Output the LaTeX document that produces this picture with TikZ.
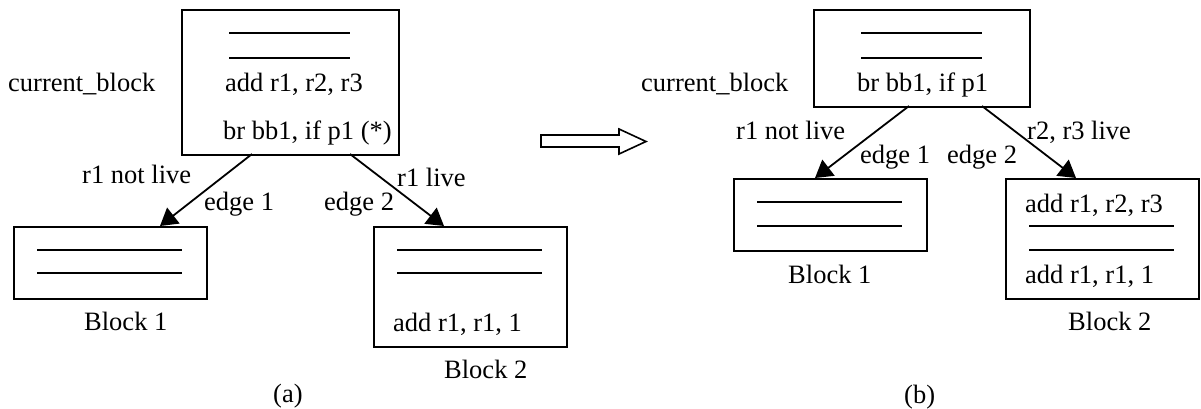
\documentclass[tikz,border=0pt]{standalone}
\usepackage{fontspec}
\setmainfont{Liberation Serif}
\usetikzlibrary{arrows.meta}
\begin{document}
\begin{tikzpicture}[x=1pt,y=-1pt,
  every node/.style={font=\fontsize{26.5}{30}\selectfont},
  lbl/.style={anchor=base west,inner sep=0pt},
  blockbox/.style={draw,line width=1.8pt,anchor=north west,inner sep=0pt},
  bar/.style={line width=1.8pt},
  edgearrow/.style={line width=1.8pt,-{Triangle[length=17pt,width=20pt]}}]
\path[use as bounding box] (0,0) rectangle (1201,408);
% ---------------- (a) ----------------
\node[blockbox,minimum width=217pt,minimum height=145pt] (curA) at (181,9) {};
\draw[bar] (229,33) -- (350,33);
\draw[bar] (229,58) -- (350,58);
\node[lbl] (curAlbl) at (8,91) {current\_block};
\node[lbl] (curAadd) at (225,91) {add r1, r2, r3};
\node[lbl] (curAbr) at (223,139) {br bb1, if p1 (*)};

\node[blockbox,minimum width=193pt,minimum height=72pt] (b1A) at (13,226) {};
\draw[bar] (37,250) -- (182,250);
\draw[bar] (37,273) -- (182,273);
\node[lbl] (b1Albl) at (84,330) {Block 1};

\node[blockbox,minimum width=193pt,minimum height=120pt] (b2A) at (373,226) {};
\draw[bar] (397,250) -- (542,250);
\draw[bar] (397,273) -- (542,273);
\node[lbl] (b2Aadd) at (393,331) {add r1, r1, 1};
\node[lbl] (b2Albl) at (444,378) {Block 2};

\coordinate (eA1s) at (252,154);
\coordinate (eA1t) at (160,226);
\coordinate (eA2s) at (350,154);
\coordinate (eA2t) at (444,226);
\draw[edgearrow] (eA1s) -- (eA1t);
\draw[edgearrow] (eA2s) -- (eA2t);
\node[lbl] (nlA) at (82,183) {r1 not live};
\node[lbl] (e1A) at (204,210) {edge 1};
\node[lbl] (e2A) at (324,210) {edge 2};
\node[lbl] (lA) at (397,186) {r1 live};
\node[lbl] (capA) at (273,402) {(a)};

% ---------------- transform arrow ----------------
\draw[line width=1.6pt,line join=miter]
  (541,135) -- (619,135) -- (619,129) -- (646,141.5) -- (619,154) -- (619,147) -- (541,147) -- cycle;

% ---------------- (b) ----------------
\node[blockbox,minimum width=216pt,minimum height=97pt] (curB) at (813,9) {};
\draw[bar] (861,33) -- (982,33);
\draw[bar] (861,58) -- (982,58);
\node[lbl] (curBlbl) at (641,91) {current\_block};
\node[lbl] (curBbr) at (857,91) {br bb1, if p1};

\node[blockbox,minimum width=193pt,minimum height=72pt] (b1B) at (733,178) {};
\draw[bar] (757,202) -- (902,202);
\draw[bar] (757,226) -- (902,226);
\node[lbl] (b1Blbl) at (788,283) {Block 1};

\node[blockbox,minimum width=193pt,minimum height=120pt] (b2B) at (1005,178) {};
\node[lbl] (b2Badd1) at (1025,212) {add r1, r2, r3};
\draw[bar] (1029,226) -- (1174,226);
\draw[bar] (1029,250) -- (1174,250);
\node[lbl] (b2Badd2) at (1025,283) {add r1, r1, 1};
\node[lbl] (b2Blbl) at (1068,330) {Block 2};

\coordinate (eB1s) at (909,106);
\coordinate (eB1t) at (815,178);
\coordinate (eB2s) at (982,106);
\coordinate (eB2t) at (1076,178);
\draw[edgearrow] (eB1s) -- (eB1t);
\draw[edgearrow] (eB2s) -- (eB2t);
\node[lbl] (nlB) at (736,139) {r1 not live};
\node[lbl] (e1B) at (860,163) {edge 1};
\node[lbl] (e2B) at (947,163) {edge 2};
\node[lbl] (lB) at (1027,139) {r2, r3 live};
\node[lbl] (capB) at (904,403) {(b)};
\end{tikzpicture}
\end{document}
